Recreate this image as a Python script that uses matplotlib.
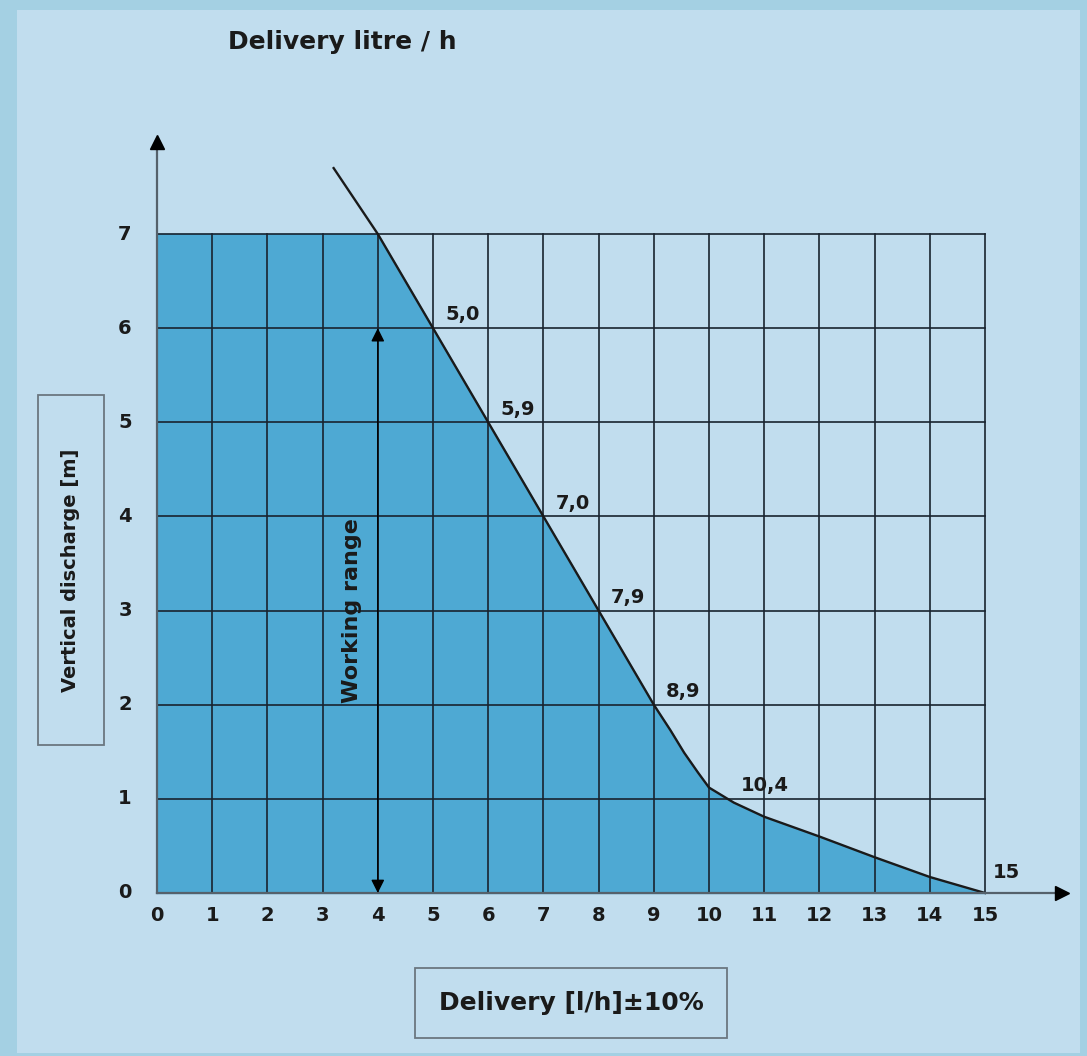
import matplotlib.pyplot as plt
import matplotlib.patches as patches
import numpy as np

plt.rcParams['font.family'] = ['DejaVu Sans']
plt.rcParams['font.weight'] = 'bold'

# Pump curve (delivery l/h vs vertical discharge m)
flow_x = np.array([3.2, 4, 5, 6, 7, 8, 9, 9.3, 9.55, 9.8, 10, 10.45, 11, 12, 13, 14, 15])
head_y = np.array([7.7, 7, 6, 5, 4, 3, 2, 1.73, 1.49, 1.28, 1.12, 0.96, 0.81, 0.6, 0.38, 0.17, 0])

# Value labels along the curve
label_x = [5, 6, 7, 8, 9, 10, 15]
label_y = [6, 5, 4, 3, 2, 1, 0]
label_txt = ["5,0", "5,9", "7,0", "7,9", "8,9", "10,4", "15"]

x_ticks = list(range(0, 16))
y_ticks = list(range(0, 8))

bg_outer = '#a4d0e3'
bg_inner = '#c1ddee'
fill_col = '#4ea9d3'
grid_col = '#18232f'
ink = '#1a1a1a'
axis_col = '#55616b'

fig = plt.figure(figsize=(10.87, 10.56), dpi=100, facecolor=bg_outer)
W, H = 1087, 1056

# inner light panel
fig.patches.append(patches.Rectangle((17 / W, 1 - 1053 / H), (1080 - 17) / W, (1053 - 10) / H,
                                     transform=fig.transFigure, facecolor=bg_inner,
                                     edgecolor='none', zorder=-10))

# axes placed so that data (0..15, 0..7) sits on the grid
x0, x15, y0, y7 = 157, 985, 893, 234
ax = fig.add_axes([x0 / W, 1 - y0 / H, (x15 - x0) / W, (y0 - y7) / H])
ax.set_xlim(0, 15)
ax.set_ylim(0, 7)
ax.axis('off')

# filled working area under the curve (capped at 7 m)
fx = np.concatenate([[0], flow_x])
fy = np.clip(np.concatenate([[7], head_y]), 0, 7)
ax.fill_between(fx, 0, fy, color=fill_col, zorder=1, clip_on=False)

# grid
for xv in x_ticks[1:]:
    ax.plot([xv, xv], [0, 7], color=grid_col, lw=1.2, zorder=2, clip_on=False)
for yv in y_ticks[1:]:
    ax.plot([0, 15], [yv, yv], color=grid_col, lw=1.2, zorder=2, clip_on=False)

# curve
ax.plot(flow_x, head_y, color=ink, lw=1.7, zorder=4, clip_on=False)

# axes lines with black arrowheads
ax.plot([0, 0], [0, 7.95], color=axis_col, lw=1.6, zorder=5, clip_on=False)
ax.plot([0, 16.4], [0, 0], color=axis_col, lw=1.6, zorder=5, clip_on=False)
ax.plot(0, 7.98, marker='^', color='black', markersize=10, zorder=6, clip_on=False)
ax.plot(16.4, 0, marker='>', color='black', markersize=10, zorder=6, clip_on=False)

# tick labels
for xv in x_ticks:
    ax.text(xv, -0.24, str(xv), ha='center', va='center', fontsize=14, color=ink)
for yv in y_ticks:
    ax.text(-0.58, yv, str(yv), ha='center', va='center', fontsize=14, color=ink)

# value labels
for lx, ly, t in zip(label_x, label_y, label_txt):
    if t == "10,4":
        ax.text(lx + 0.58, ly + 0.04, t, ha='left', va='bottom', fontsize=14, color=ink)
    elif t == "15":
        ax.text(lx + 0.15, ly + 0.22, t, ha='left', va='center', fontsize=14, color=ink)
    else:
        ax.text(lx + 0.22, ly + 0.04, t, ha='left', va='bottom', fontsize=14, color=ink)

# working range arrow
ax.annotate('', xy=(4, 6), xytext=(4, 0),
            arrowprops=dict(arrowstyle='<|-|>', color='black', lw=1.0, mutation_scale=20,
                            shrinkA=0, shrinkB=0),
            annotation_clip=False, zorder=6)
ax.text(3.53, 3.0, "Working range", rotation=90, ha='center', va='center',
        fontsize=16, color=ink, zorder=6)

# title
ax.text(1.29, 9.04, "Delivery litre / h", ha='left', va='center', fontsize=18, color=ink)

# axis label boxes
ax.add_patch(patches.Rectangle((4.67, -1.54), 10.33 - 4.67, 1.54 - 0.797, facecolor='none',
                               edgecolor='#6b7780', lw=1.3, clip_on=False))
ax.text(7.5, -1.17, "Delivery [l/h]±10%", ha='center', va='center', fontsize=18, color=ink)

ax.add_patch(patches.Rectangle((-2.156, 1.57), 2.156 - 0.96, 5.29 - 1.57, facecolor='none',
                               edgecolor='#6b7780', lw=1.3, clip_on=False))
ax.text(-1.56, 3.43, "Vertical discharge [m]", rotation=90, ha='center', va='center',
        fontsize=14, color=ink)

fig.savefig('out.png', dpi=100, facecolor=fig.get_facecolor())
